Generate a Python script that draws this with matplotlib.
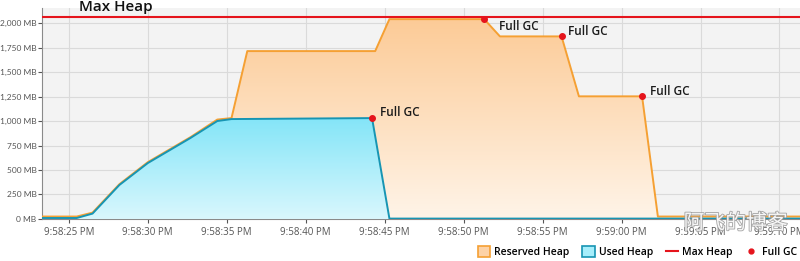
import numpy as np
import matplotlib
matplotlib.use("Agg")
from matplotlib import pyplot as plt
from matplotlib.colors import LinearSegmentedColormap
from matplotlib.patches import Patch
from matplotlib.lines import Line2D
import matplotlib.patheffects as pe

plt.rcParams['font.family'] = ['Open Sans', 'Noto Sans CJK SC', 'DejaVu Sans']

# time in seconds after 9:58:00 PM, heap in MB
reserved_t = [23.3, 25.5, 26.5, 28.2, 30.0, 32.7, 34.4, 35.3, 36.3, 44.4, 45.3, 51.3, 52.3, 56.2, 57.3, 61.3, 62.3, 71.3]
reserved_mb = [25, 25, 65, 355, 580, 835, 1015, 1030, 1714, 1714, 2040, 2040, 1864, 1864, 1252, 1252, 25, 25]

used_t = [23.3, 25.5, 26.5, 28.2, 30.0, 32.7, 34.4, 35.3, 44.2, 45.3, 71.3]
used_mb = [10, 10, 55, 347, 571, 827, 1000, 1020, 1030, 4, 4]

max_heap_mb = 2058

gc_t = [44.2, 51.3, 56.2, 61.3]
gc_mb = [1030, 2040, 1867, 1255]

tick_secs = [25, 30, 35, 40, 45, 50, 55, 60, 65, 70]
tick_labels = ["9:58:25 PM", "9:58:30 PM", "9:58:35 PM", "9:58:40 PM", "9:58:45 PM",
               "9:58:50 PM", "9:58:55 PM", "9:59:00 PM", "9:59:05 PM", "9:59:10 PM"]
y_ticks = [0, 250, 500, 750, 1000, 1250, 1500, 1750, 2000]
y_tick_labels = ["0 MB", "250 MB", "500 MB", "750 MB", "1,000 MB", "1,250 MB",
                 "1,500 MB", "1,750 MB", "2,000 MB"]

x_min, x_max = 23.3, 71.3
y_top = 2153

fig = plt.figure(figsize=(8, 2.61), dpi=100)
ax = fig.add_axes([0.0525, 0.161, 0.9475, 0.808])
ax.set_facecolor("#f3f3f3")
ax.set_xlim(x_min, x_max)
ax.set_ylim(0, y_top)


def gradient_fill(x, y, c_top, c_bottom, zorder):
    poly = ax.fill_between(x, y, 0, facecolor="none", edgecolor="none", zorder=zorder)
    cmap = LinearSegmentedColormap.from_list("g", [c_bottom, c_top])
    grad = np.linspace(0, 1, 256).reshape(-1, 1)
    im = ax.imshow(grad, cmap=cmap, aspect="auto", origin="lower",
                   extent=[x_min, x_max, 0, max(y)], zorder=zorder)
    path = poly.get_paths()[0]
    im.set_clip_path(path, transform=ax.transData)


gradient_fill(reserved_t, reserved_mb, "#fccb97", "#fff4e8", 2)
ax.plot(reserved_t, reserved_mb, color="#f5a033", lw=1.4, zorder=3)
gradient_fill(used_t, used_mb, "#84e5f8", "#d9f7fd", 4)
ax.plot(used_t, used_mb, color="#1795b3", lw=1.4, zorder=5)

ax.axhline(max_heap_mb, color="#e5141c", lw=1.5, zorder=6)
ax.plot(gc_t, gc_mb, "o", color="#e5141c", ms=4, zorder=7)

offsets = [(6, 4), (11, -5), (5, 3), (6, 3)]
for t, v, off in zip(gc_t, gc_mb, offsets):
    ax.annotate("Full GC", (t, v), xytext=off, textcoords="offset points",
                fontsize=8.5, fontweight="semibold", color="#1a1a1a", va="center", zorder=8)

ax.set_xticks(tick_secs)
ax.set_xticklabels(tick_labels, fontsize=7)
ax.set_yticks(y_ticks)
ax.set_yticklabels(y_tick_labels, fontsize=6, family="Lato")
ax.tick_params(axis="both", colors="#555555", length=3, width=0.8)
ax.tick_params(axis="y", pad=1)
ax.tick_params(axis="x", pad=3)
ax.grid(True, color="#dadada", lw=0.8, zorder=1)
ax.set_axisbelow(True)
for s in ["top", "right"]:
    ax.spines[s].set_visible(False)
ax.spines["left"].set_color("#8a8a8a")
ax.spines["bottom"].set_color("#8a8a8a")

fig.text(0.099, 0.958, "Max Heap", fontsize=11, fontweight="semibold", color="#111111", va="baseline")

handles = [
    Patch(facecolor="#fdd2a6", edgecolor="#f5a033", lw=1.2),
    Patch(facecolor="#a6eefb", edgecolor="#1795b3", lw=1.2),
    Line2D([], [], color="#e5141c", lw=1.5),
    Line2D([], [], color="#e5141c", marker="o", ms=3.5, ls="none"),
]
labels = ["Reserved Heap", "Used Heap", "Max Heap", "Full GC"]
fig.legend(handles, labels, loc="lower right", bbox_to_anchor=(1.008, -0.025), ncol=4, frameon=False,
           prop={"size": 7.5, "weight": "semibold"}, handlelength=1.2, handleheight=1.2,
           handletextpad=0.4, columnspacing=1.2)

fig.text(0.985, 0.145, "阿飞的博客", fontsize=15, color="white", ha="right", va="center",
         family=["Noto Sans CJK SC"], alpha=0.9, zorder=10,
         path_effects=[pe.withStroke(linewidth=1.2, foreground="#9a9a9a")])

fig.savefig("out.png", dpi=100)
